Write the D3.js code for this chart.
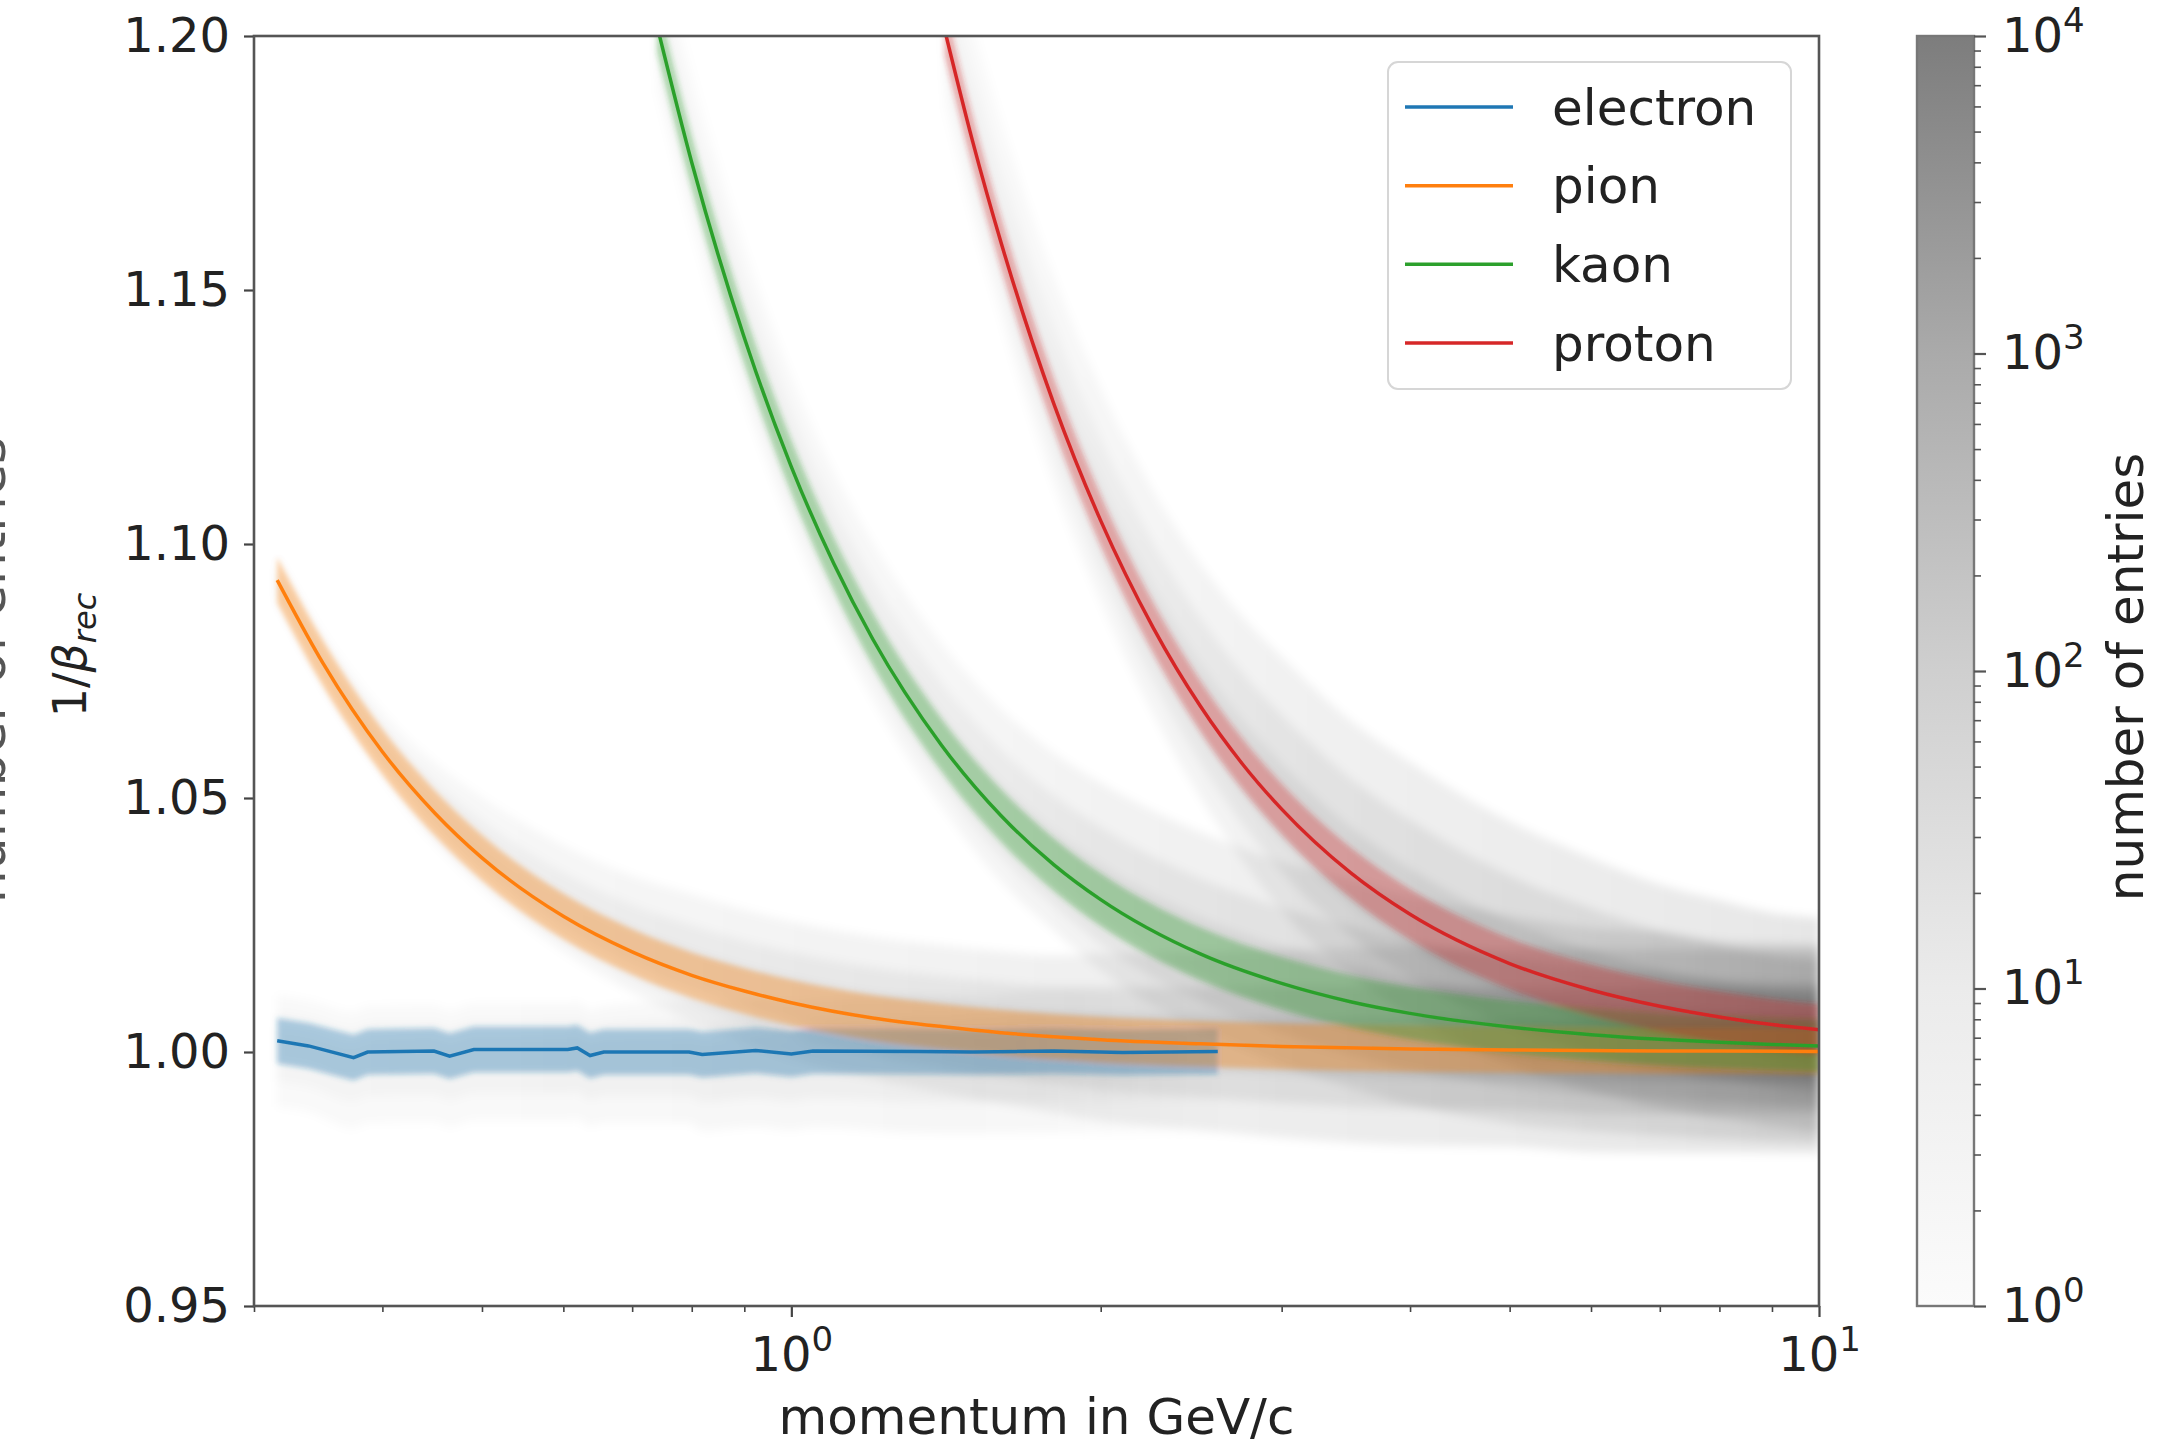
<!DOCTYPE html>
<html>
<head>
<meta charset="utf-8">
<script src="https://cdn.jsdelivr.net/npm/d3@7"></script>
<style>
  html, body { margin: 0; padding: 0; background: #fff; }
  svg { display: block; font-family: "DejaVu Sans", sans-serif; }
</style>
</head>
<body>
<svg id="chart" width="2177" height="1453"></svg>
<script>
// --- data ---
const species = ['electron', 'pion', 'kaon', 'proton'];
const colors = ['#1f77b4', '#ff7f0e', '#2ca02c', '#d62728'];
const bandWidth = [0.0045, 0.0045, 0.0052, 0.0050];

const electronP     = [0.316, 0.339, 0.375, 0.387, 0.449, 0.465, 0.491, 0.606, 0.619, 0.637, 0.657, 0.795, 0.819, 0.923, 1.0, 1.05, 1.33, 1.5, 1.8, 2.1, 2.6];
const electronBeta  = [1.0022, 1.0012, 0.9989, 1.0000, 1.0002, 0.9992, 1.0005, 1.0005, 1.0008, 0.9993, 1.0000, 1.0000, 0.9995, 1.0003, 0.9996, 1.0002, 1.0001, 1.0000, 1.0002, 0.9999, 1.0001];
const electronGrayUp   = [0.009, 0.009, 0.009, 0.009, 0.009, 0.009, 0.009, 0.009, 0.009, 0.009, 0.009, 0.010, 0.010, 0.010, 0.010, 0.010, 0.011, 0.011, 0.012, 0.012, 0.013];
const electronGrayDown = [0.013, 0.013, 0.014, 0.014, 0.014, 0.014, 0.014, 0.014, 0.014, 0.014, 0.014, 0.014, 0.015, 0.015, 0.015, 0.015, 0.016, 0.016, 0.016, 0.016, 0.016];
const electronGrayAlpha = [0.022, 0.022, 0.022, 0.022, 0.024, 0.024, 0.024, 0.027, 0.027, 0.027, 0.027, 0.03, 0.03, 0.032, 0.032, 0.032, 0.034, 0.034, 0.03, 0.02, 0.004];

const pionP     = [0.316, 0.35, 0.4, 0.45, 0.5, 0.6, 0.7, 0.8, 0.9, 1.0, 1.2, 1.4, 1.6, 1.8, 2.0, 2.5, 3, 4, 5, 6, 7, 8, 10];
const pionBeta  = [1.0929, 1.0766, 1.0591, 1.0470, 1.0382, 1.0267, 1.0197, 1.0151, 1.0120, 1.0097, 1.0067, 1.0050, 1.0038, 1.0030, 1.0024, 1.0016, 1.0011, 1.0006, 1.0004, 1.0003, 1.0002, 1.0002, 1.0001];
const pionGrayUp   = [0.005, 0.006, 0.008, 0.010, 0.012, 0.014, 0.015, 0.016, 0.016, 0.016, 0.016, 0.016, 0.016, 0.016, 0.017, 0.018, 0.019, 0.020, 0.020, 0.020, 0.020, 0.020, 0.020];
const pionGrayDown = [0.005, 0.005, 0.005, 0.006, 0.006, 0.007, 0.008, 0.009, 0.010, 0.011, 0.012, 0.013, 0.014, 0.015, 0.016, 0.017, 0.018, 0.019, 0.019, 0.020, 0.020, 0.020, 0.020];
const pionGrayAlpha = [0.025, 0.025, 0.028, 0.03, 0.032, 0.035, 0.038, 0.04, 0.042, 0.045, 0.048, 0.05, 0.055, 0.058, 0.06, 0.065, 0.07, 0.075, 0.08, 0.085, 0.09, 0.095, 0.1];

const kaonP     = [0.74, 0.8, 0.9, 1.0, 1.1, 1.2, 1.4, 1.6, 1.8, 2.0, 2.5, 3.0, 3.5, 4, 5, 6, 7, 8, 9, 10];
const kaonBeta  = [1.2021, 1.1751, 1.1406, 1.1152, 1.0961, 1.0813, 1.0604, 1.0465, 1.0369, 1.0300, 1.0193, 1.0135, 1.0099, 1.0076, 1.0049, 1.0034, 1.0025, 1.0019, 1.0015, 1.0012];
const kaonGrayUp   = [0.018, 0.018, 0.018, 0.018, 0.018, 0.019, 0.020, 0.021, 0.022, 0.023, 0.024, 0.024, 0.024, 0.023, 0.022, 0.021, 0.021, 0.020, 0.020, 0.020];
const kaonGrayDown = [0.013, 0.013, 0.012, 0.012, 0.012, 0.012, 0.012, 0.013, 0.013, 0.014, 0.015, 0.016, 0.017, 0.018, 0.019, 0.019, 0.019, 0.019, 0.019, 0.019];
const kaonGrayAlpha = [0.02, 0.02, 0.025, 0.028, 0.03, 0.032, 0.036, 0.04, 0.045, 0.05, 0.055, 0.06, 0.065, 0.07, 0.075, 0.08, 0.085, 0.09, 0.095, 0.1];

const protonP     = [1.41, 1.5, 1.6, 1.8, 2.0, 2.25, 2.5, 2.75, 3.0, 3.5, 4, 5, 6, 7, 8, 9, 10];
const protonBeta  = [1.2012, 1.1795, 1.1593, 1.1277, 1.1046, 1.0835, 1.0681, 1.0566, 1.0478, 1.0353, 1.0271, 1.0174, 1.0122, 1.0090, 1.0069, 1.0054, 1.0044];
const protonGrayUp   = [0.022, 0.023, 0.024, 0.025, 0.026, 0.027, 0.028, 0.029, 0.030, 0.030, 0.030, 0.028, 0.026, 0.024, 0.023, 0.022, 0.022];
const protonGrayDown = [0.015, 0.015, 0.015, 0.016, 0.016, 0.017, 0.018, 0.019, 0.020, 0.020, 0.020, 0.020, 0.020, 0.020, 0.020, 0.020, 0.020];
const protonGrayAlpha = [0.02, 0.022, 0.025, 0.03, 0.035, 0.04, 0.045, 0.05, 0.055, 0.06, 0.065, 0.07, 0.075, 0.08, 0.085, 0.09, 0.1];

const yTicks = [0.95, 1.00, 1.05, 1.10, 1.15, 1.20];
const xMajor = [1, 10];
const xMajorExp = ['0', '1'];
const xMinor = [0.3, 0.4, 0.5, 0.6, 0.7, 0.8, 0.9, 2, 3, 4, 5, 6, 7, 8, 9];
const cbMajor = [1, 10, 100, 1000, 10000];
const cbMajorExp = ['0', '1', '2', '3', '4'];
const cbStops = [0, 0.25, 0.5, 0.75, 1];
const cbStopColors = ['#fbfbfb', '#ebebeb', '#cfcfcf', '#aaaaaa', '#7d7d7d'];

// --- layout ---
const plot = { left: 254, right: 1819, top: 36, bottom: 1306 };
const cb = { left: 1917, right: 1974 };
const grayLayers = [1, 0.62, 0.3];

const svg = d3.select('#chart');
const defs = svg.append('defs');

const x = d3.scaleLog().domain([0.3, 10]).range([plot.left, plot.right]);
const y = d3.scaleLinear().domain([0.95, 1.2]).range([plot.bottom, plot.top]);

const series = [
  { p: electronP, beta: electronBeta, up: electronGrayUp, down: electronGrayDown, alpha: electronGrayAlpha },
  { p: pionP, beta: pionBeta, up: pionGrayUp, down: pionGrayDown, alpha: pionGrayAlpha },
  { p: kaonP, beta: kaonBeta, up: kaonGrayUp, down: kaonGrayDown, alpha: kaonGrayAlpha },
  { p: protonP, beta: protonBeta, up: protonGrayUp, down: protonGrayDown, alpha: protonGrayAlpha },
].map((s, i) => ({
  ...s,
  name: species[i],
  color: colors[i],
  band: bandWidth[i],
  points: s.p.map((p, j) => ({ p, b: s.beta[j], up: s.up[j], down: s.down[j], a: s.alpha[j] })),
}));

defs.append('clipPath').attr('id', 'plotClip')
  .append('rect')
  .attr('x', plot.left).attr('y', plot.top)
  .attr('width', plot.right - plot.left).attr('height', plot.bottom - plot.top);

function addBlur(id, dev) {
  defs.append('filter').attr('id', id)
    .attr('x', '-10%').attr('y', '-10%').attr('width', '120%').attr('height', '120%')
    .append('feGaussianBlur').attr('stdDeviation', dev);
}
addBlur('blurGray', 5);
addBlur('blurBand', 2.5);
addBlur('blurLine', 0.7);

function renderHistogram() {
  const g = svg.append('g').attr('clip-path', 'url(#plotClip)')
    .append('g').attr('filter', 'url(#blurGray)');

  series.forEach((s, i) => {
    const x0 = x(s.p[0]), x1 = x(s.p[s.p.length - 1]);
    const grad = defs.append('linearGradient')
      .attr('id', `gray-${i}`)
      .attr('gradientUnits', 'userSpaceOnUse')
      .attr('x1', x0).attr('x2', x1).attr('y1', 0).attr('y2', 0);
    grad.selectAll('stop').data(s.points).join('stop')
      .attr('offset', d => (x(d.p) - x0) / (x1 - x0))
      .attr('stop-color', '#000')
      .attr('stop-opacity', d => d.a);

    grayLayers.forEach(f => {
      const area = d3.area()
        .x(d => x(d.p))
        .y0(d => y(d.b - f * d.down))
        .y1(d => y(d.b + f * d.up))
        .curve(d3.curveMonotoneX);
      g.append('path').datum(s.points)
        .attr('d', area)
        .attr('fill', `url(#gray-${i})`);
    });
  });
}

function renderBands() {
  const g = svg.append('g').attr('clip-path', 'url(#plotClip)')
    .append('g').attr('filter', 'url(#blurBand)');
  series.forEach(s => {
    const area = d3.area()
      .x(d => x(d.p))
      .y0(d => y(d.b - s.band))
      .y1(d => y(d.b + s.band))
      .curve(s.name === 'electron' ? d3.curveLinear : d3.curveMonotoneX);
    g.append('path').datum(s.points)
      .attr('d', area)
      .attr('fill', s.color)
      .attr('fill-opacity', 0.34);
  });
}

function renderLines() {
  const g = svg.append('g').attr('clip-path', 'url(#plotClip)')
    .append('g').attr('filter', 'url(#blurLine)');
  series.forEach(s => {
    const line = d3.line()
      .x(d => x(d.p))
      .y(d => y(d.b))
      .curve(s.name === 'electron' ? d3.curveLinear : d3.curveMonotoneX);
    g.append('path').datum(s.points)
      .attr('d', line)
      .attr('fill', 'none')
      .attr('stroke', s.color)
      .attr('stroke-width', 3.5);
  });
}

function supText(sel, base, exp, supSize, rise) {
  sel.text(null);
  sel.append('tspan').text(base);
  sel.append('tspan').attr('dy', -rise).attr('font-size', supSize).text(exp);
}

function renderAxes() {
  const tickColor = '#444';

  // y axis
  const yAxis = d3.axisLeft(y).tickValues(yTicks).tickFormat(d3.format('.2f'))
    .tickSize(10).tickPadding(14);
  const gy = svg.append('g').attr('transform', `translate(${plot.left},0)`).call(yAxis);
  gy.select('.domain').remove();
  gy.selectAll('line').attr('stroke', tickColor).attr('stroke-width', 2.2);
  gy.selectAll('text').attr('font-size', 48).attr('fill', '#222')
    .attr('font-family', '"DejaVu Sans", sans-serif');

  // x axis: minor ticks
  const gxMinor = svg.append('g').attr('transform', `translate(0,${plot.bottom})`)
    .call(d3.axisBottom(x).tickValues(xMinor).tickFormat('').tickSize(6));
  gxMinor.select('.domain').remove();
  gxMinor.selectAll('line').attr('stroke', tickColor).attr('stroke-width', 1.6);

  // x axis: major ticks
  const gx = svg.append('g').attr('transform', `translate(0,${plot.bottom})`)
    .call(d3.axisBottom(x).tickValues(xMajor).tickSize(11).tickPadding(20));
  gx.select('.domain').remove();
  gx.selectAll('line').attr('stroke', tickColor).attr('stroke-width', 2.2);
  gx.selectAll('text')
    .attr('font-size', 48).attr('fill', '#222')
    .attr('font-family', '"DejaVu Sans", sans-serif')
    .each(function (d, i) { supText(d3.select(this), '10', xMajorExp[i], 34, 20); });

  // frame
  svg.append('rect')
    .attr('x', plot.left).attr('y', plot.top)
    .attr('width', plot.right - plot.left).attr('height', plot.bottom - plot.top)
    .attr('fill', 'none').attr('stroke', '#555').attr('stroke-width', 2.6);

  // axis labels
  svg.append('text')
    .attr('x', (plot.left + plot.right) / 2).attr('y', 1434)
    .attr('text-anchor', 'middle')
    .attr('font-size', 50).attr('fill', '#222')
    .text('momentum in GeV/c');

  const yl = svg.append('text')
    .attr('transform', 'translate(86,655) rotate(-90)')
    .attr('text-anchor', 'middle')
    .attr('font-size', 46).attr('fill', '#222');
  yl.append('tspan').text('1/');
  yl.append('tspan').attr('font-style', 'italic').text('β');
  yl.append('tspan').attr('font-style', 'italic').attr('font-size', 32).attr('dy', 10).text('rec');

  // neighbouring panel's colorbar label, cut by the image edge
  svg.append('text')
    .attr('transform', 'translate(5,670) rotate(-90)')
    .attr('text-anchor', 'middle')
    .attr('font-size', 52).attr('fill', '#555')
    .text('number of entries');
}

function renderColorbar() {
  const cy = d3.scaleLog().domain([1, 10000]).range([plot.bottom, plot.top]);
  const grad = defs.append('linearGradient').attr('id', 'cbGrad')
    .attr('x1', 0).attr('x2', 0).attr('y1', 1).attr('y2', 0);
  grad.selectAll('stop').data(cbStops).join('stop')
    .attr('offset', d => d)
    .attr('stop-color', (d, i) => cbStopColors[i]);

  svg.append('rect')
    .attr('x', cb.left).attr('y', plot.top)
    .attr('width', cb.right - cb.left).attr('height', plot.bottom - plot.top)
    .attr('fill', 'url(#cbGrad)')
    .attr('stroke', '#777').attr('stroke-width', 2.4);

  const cbMinor = cbMajor.slice(0, -1).flatMap(d => d3.range(2, 10).map(k => k * d));
  const gMinor = svg.append('g').attr('transform', `translate(${cb.right},0)`)
    .call(d3.axisRight(cy).tickValues(cbMinor).tickFormat('').tickSize(7));
  gMinor.select('.domain').remove();
  gMinor.selectAll('line').attr('stroke', '#555').attr('stroke-width', 1.6);

  const gMajor = svg.append('g').attr('transform', `translate(${cb.right},0)`)
    .call(d3.axisRight(cy).tickValues(cbMajor).tickSize(12).tickPadding(16));
  gMajor.select('.domain').remove();
  gMajor.selectAll('line').attr('stroke', '#555').attr('stroke-width', 2.2);
  gMajor.selectAll('text')
    .attr('font-size', 48).attr('fill', '#222')
    .attr('font-family', '"DejaVu Sans", sans-serif')
    .each(function (d, i) { supText(d3.select(this), '10', cbMajorExp[i], 34, 20); });

  svg.append('text')
    .attr('transform', `translate(2143,677) rotate(-90)`)
    .attr('text-anchor', 'middle')
    .attr('font-size', 50).attr('fill', '#222')
    .text('number of entries');
}

function renderLegend() {
  const box = { x: 1388, y: 62, w: 403, h: 327 };
  const rowY = d3.scalePoint().domain(species).range([107, 343]);
  svg.append('rect')
    .attr('x', box.x).attr('y', box.y).attr('width', box.w).attr('height', box.h)
    .attr('rx', 10)
    .attr('fill', '#fff').attr('fill-opacity', 0.85)
    .attr('stroke', '#d6d6d6').attr('stroke-width', 2);
  const rows = svg.append('g').selectAll('g').data(series).join('g')
    .attr('transform', d => `translate(0,${rowY(d.name)})`);
  rows.append('line')
    .attr('x1', 1405).attr('x2', 1513)
    .attr('stroke', d => d.color).attr('stroke-width', 3.5);
  rows.append('text')
    .attr('x', 1552).attr('dy', '0.35em')
    .attr('font-size', 50).attr('fill', '#222')
    .text(d => d.name);
}

// --- main ---
renderHistogram();
renderBands();
renderLines();
renderAxes();
renderColorbar();
renderLegend();
</script>
</body>
</html>
